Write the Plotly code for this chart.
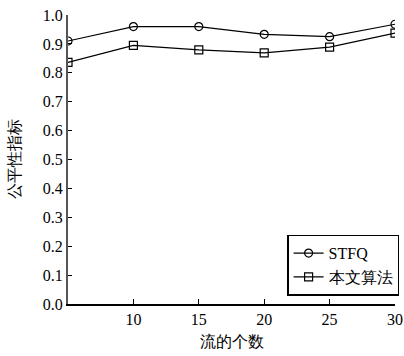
import plotly.graph_objects as go

flows = [5, 10, 15, 20, 25, 30]
stfq = [0.91, 0.96, 0.96, 0.933, 0.925, 0.968]
ours = [0.836, 0.895, 0.879, 0.869, 0.889, 0.937]
y_ticks = [0.0, 0.1, 0.2, 0.3, 0.4, 0.5, 0.6, 0.7, 0.8, 0.9, 1.0]
x_ticks = [10, 15, 20, 25, 30]

font_family = "Liberation Serif, DejaVu Serif, serif"

fig = go.Figure()
fig.add_trace(go.Scatter(
    x=flows, y=stfq, name="STFQ", mode="lines+markers",
    line=dict(color="black", width=1.2),
    marker=dict(symbol="circle-open", size=8, color="black", line=dict(width=1.2)),
))
fig.add_trace(go.Scatter(
    x=flows, y=ours, name="本文算法", mode="lines+markers",
    line=dict(color="black", width=1.2),
    marker=dict(symbol="square-open", size=8, color="black", line=dict(width=1.2)),
))

fig.update_layout(
    width=404, height=356,
    margin=dict(l=68, r=9, t=15, b=52, autoexpand=False),
    paper_bgcolor="white", plot_bgcolor="white",
    font=dict(family=font_family, size=16, color="black"),
    showlegend=True,
    legend=dict(
        x=0.67, y=0.24, xanchor="left", yanchor="top",
        bordercolor="black", borderwidth=1.5, bgcolor="white",
        font=dict(family=font_family, size=16), tracegroupgap=0, itemwidth=30,
    ),
    xaxis=dict(
        range=[5, 30], tickvals=x_ticks, ticktext=[str(v) for v in x_ticks],
        showgrid=False, zeroline=False, showline=True, linecolor="black", linewidth=1.5,
        ticks="inside", ticklen=5, tickcolor="black",
        tickfont=dict(family=font_family, size=16),
        title=dict(text="流的个数", font=dict(family=font_family, size=16), standoff=9),
    ),
    yaxis=dict(
        range=[0, 1.0], tickvals=y_ticks, ticktext=[f"{v:.1f}" for v in y_ticks],
        showgrid=False, zeroline=False, showline=True, linecolor="#555555", linewidth=2,
        ticks="inside", ticklen=4, tickcolor="black",
        tickfont=dict(family=font_family, size=16),
        title=dict(text="公平性指标", font=dict(family=font_family, size=16), standoff=18),
    ),
)

fig.write_html("out.html", config={"displayModeBar": False},
               post_script="document.body.style.margin='0';")
